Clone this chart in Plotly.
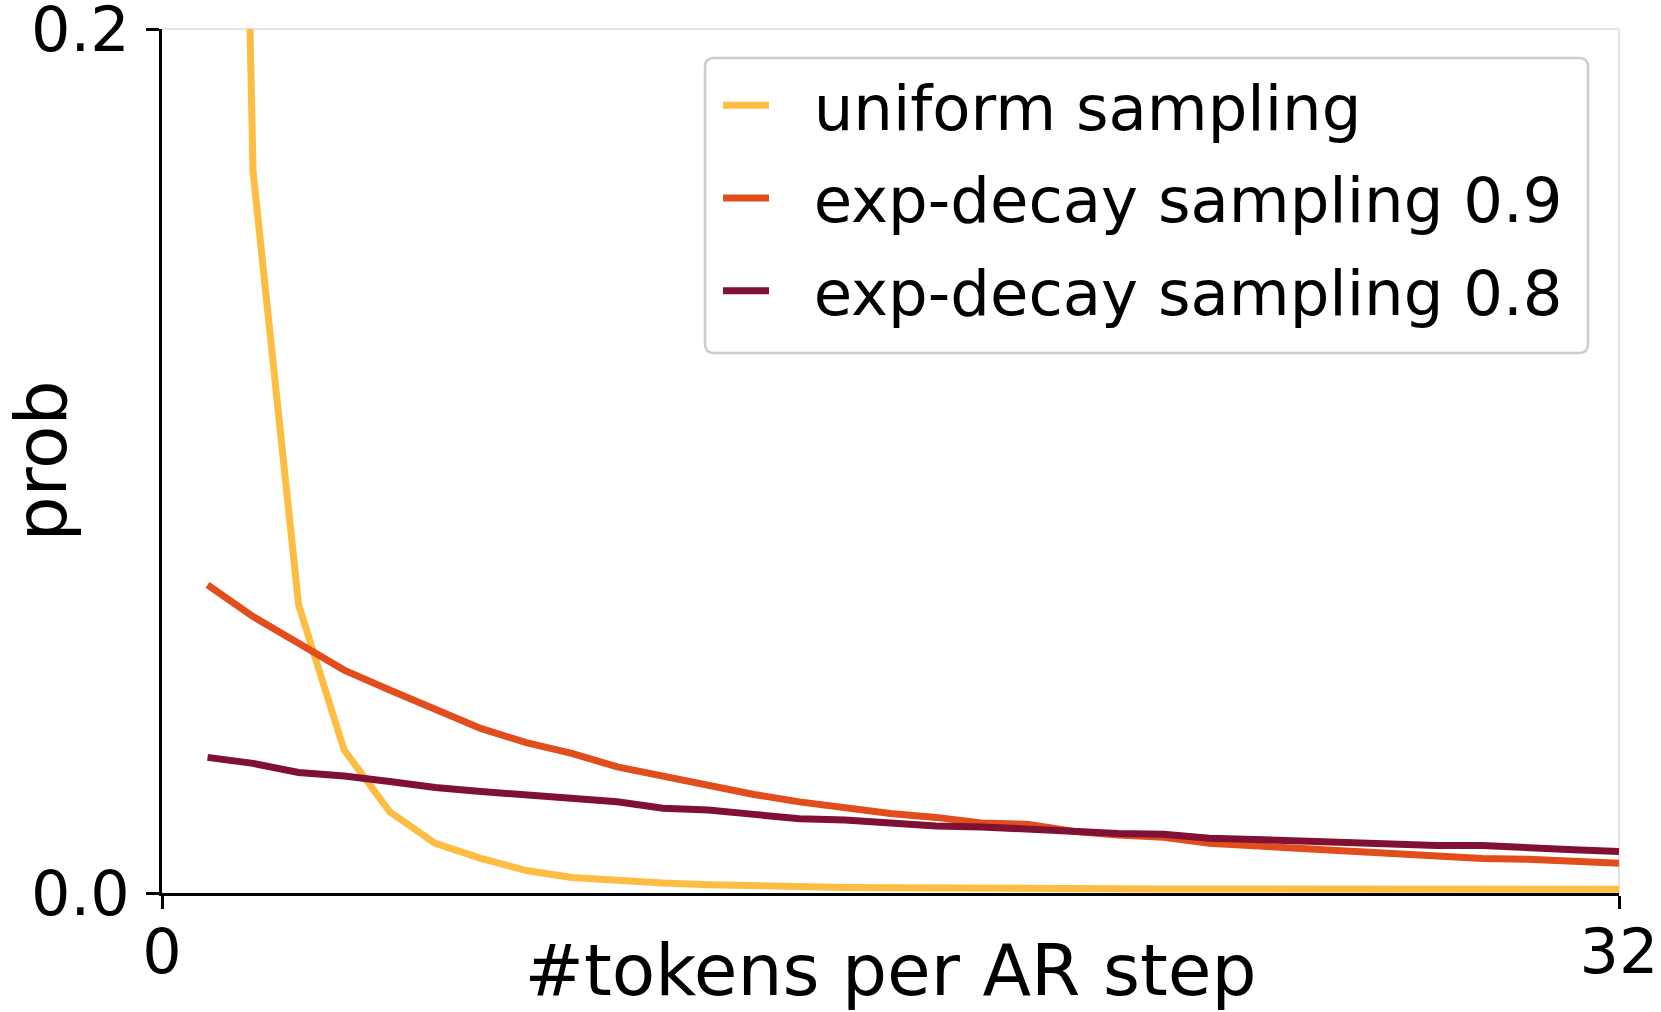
import plotly.graph_objects as go

# ---- data ----
tokens = list(range(1, 33))

uniform = [0.66, 0.167, 0.0667, 0.0331, 0.0188, 0.0115, 0.0080, 0.0052,
           0.0036, 0.0028, 0.0023, 0.0019, 0.0016, 0.0014, 0.0013, 0.0012,
           0.0011, 0.00105, 0.0010, 0.00097, 0.00095, 0.00094, 0.00093, 0.00092,
           0.00091, 0.0009, 0.00089, 0.00088, 0.00087, 0.00086, 0.00085, 0.00084]

exp09 = [0.0713, 0.0640, 0.0578, 0.0516, 0.0470, 0.0424, 0.0381, 0.0348,
         0.0323, 0.0292, 0.0271, 0.0248, 0.0228, 0.0211, 0.0196, 0.0184,
         0.0175, 0.0162, 0.0159, 0.0143, 0.0134, 0.0129, 0.0115, 0.0109,
         0.0103, 0.0098, 0.0092, 0.0086, 0.0080, 0.0078, 0.0074, 0.0069]

exp08 = [0.0314, 0.0300, 0.0279, 0.0271, 0.0258, 0.0244, 0.0235, 0.0228,
         0.0220, 0.0211, 0.0196, 0.0192, 0.0182, 0.0172, 0.0169, 0.0162,
         0.0155, 0.0153, 0.0147, 0.0141, 0.0138, 0.0136, 0.0127, 0.0124,
         0.0120, 0.0119, 0.0113, 0.0110, 0.0110, 0.0103, 0.0100, 0.0096]

series_names = ["uniform sampling", "exp-decay sampling 0.9", "exp-decay sampling 0.8"]
series_colors = ["#fcbd42", "#e14d1c", "#801034"]

x_ticks = [0, 32]
x_ticklabels = ["0", "32"]
y_ticks = [0.0, 0.2]
y_ticklabels = ["0.0", "0.2"]

FONT = "DejaVu Sans"
W, H = 1661, 1012
L, R, T, B = 162, 42, 29, 119
PW, PH = W - L - R, H - T - B
NBSP = "\u00a0"


def px2paper_x(px):
    return (px - L) / PW


def px2paper_y(py):
    return (H - B - py) / PH


fig = go.Figure()
for name, vals, col in zip(series_names, [uniform, exp09, exp08], series_colors):
    fig.add_trace(go.Scatter(
        x=tokens, y=vals, mode="lines", name=NBSP * 2 + name,
        line=dict(color=col, width=7),
        legendgroup=name,
    ))

# rounded legend frame
x0, x1 = px2paper_x(705), px2paper_x(1588)
y0, y1 = px2paper_y(353), px2paper_y(58)
rx, ry = 9 / PW, 9 / PH
path = (f"M{x0+rx},{y1} L{x1-rx},{y1} Q{x1},{y1} {x1},{y1-ry} "
        f"L{x1},{y0+ry} Q{x1},{y0} {x1-rx},{y0} "
        f"L{x0+rx},{y0} Q{x0},{y0} {x0},{y0+ry} "
        f"L{x0},{y1-ry} Q{x0},{y1} {x0+rx},{y1} Z")

shapes = [
    dict(type="line", xref="paper", yref="paper", x0=0, x1=1, y0=1, y1=1,
         line=dict(color="#e3e3e3", width=2), layer="below"),
    dict(type="line", xref="paper", yref="paper", x0=1, x1=1, y0=0, y1=1,
         line=dict(color="#e3e3e3", width=2), layer="below"),
    dict(type="path", xref="paper", yref="paper", path=path,
         line=dict(color="#cccccc", width=2.5), fillcolor="rgba(255,255,255,0.8)",
         layer="above"),
]

fig.update_layout(
    width=W, height=H,
    margin=dict(l=L, r=R, t=T, b=B, autoexpand=False),
    paper_bgcolor="white", plot_bgcolor="white",
    font=dict(family=FONT, color="black", size=62),
    showlegend=True,
    legend=dict(
        x=px2paper_x(718), y=px2paper_y(58), xanchor="left", yanchor="top",
        xref="paper", yref="paper",
        bgcolor="rgba(0,0,0,0)", borderwidth=0,
        font=dict(family=FONT, size=62.5, color="black"),
        tracegroupgap=8.5, itemwidth=46,
    ),
    shapes=shapes,
    xaxis=dict(
        range=[0, 32], tickmode="array", tickvals=x_ticks, ticktext=x_ticklabels,
        showgrid=False, zeroline=False, showline=True, linecolor="black", linewidth=3,
        ticks="outside", ticklen=13, tickwidth=3, tickcolor="black",
        tickfont=dict(family=FONT, size=62), automargin=False,
        ticklabeloverflow="allow", ticklabelstandoff=-10,
        title=dict(text="#tokens per AR step", font=dict(family=FONT, size=71)),
    ),
    yaxis=dict(
        range=[0, 0.2], tickmode="array", tickvals=y_ticks, ticktext=y_ticklabels,
        showgrid=False, zeroline=False, showline=True, linecolor="black", linewidth=3,
        ticks="outside", ticklen=13, tickwidth=3, tickcolor="black",
        tickfont=dict(family=FONT, size=62), automargin=False,
        ticklabeloverflow="allow", ticklabelstandoff=4,
        title=dict(text="prob", font=dict(family=FONT, size=71)),
    ),
)

fig.write_html(
    "out.html",
    config={"displayModeBar": False},
    post_script="document.body.style.margin='0';document.body.style.overflow='hidden';",
)
